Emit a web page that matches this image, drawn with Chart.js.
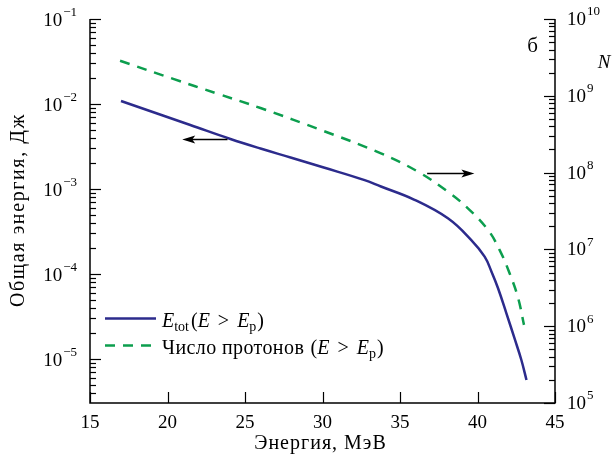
<!DOCTYPE html>
<html><head><meta charset="utf-8">
<script src="https://cdn.jsdelivr.net/npm/chart.js@4/dist/chart.umd.min.js"></script>
<style>html,body{margin:0;padding:0;background:#fff}</style>
</head><body>
<canvas id="c" width="613" height="462"></canvas>
<script>
// ---- data ----
const energyTotX = [17.0, 21.47, 24.06, 26.0, 27.94, 30.08, 32.67, 33.77, 35.9, 38.09, 39.6, 40.46, 40.89, 41.32, 41.86, 42.4, 42.83, 43.16];
const energyTotY = [1.084e-2, 5.66e-3, 3.87e-3, 2.99e-3, 2.35e-3, 1.79e-3, 1.28e-3, 1.07e-3, 7.52e-4, 4.52e-4, 2.51e-4, 1.6e-4, 1.08e-4, 6.84e-5, 3.47e-5, 1.72e-5, 9.73e-6, 5.66e-6];
const protonX = [16.94, 20.37, 23.2, 26.0, 30.08, 33.77, 36.15, 38.09, 39.38, 40.68, 41.43, 42.07, 42.62, 43.0];
const protonY = [2.86e9, 1.66e9, 1.07e9, 6.93e8, 3.48e8, 1.78e8, 1.03e8, 5.64e7, 3.43e7, 1.79e7, 9.8e6, 4.89e6, 2.33e6, 1.04e6];
const xTickValues = [15, 20, 25, 30, 35, 40, 45];
const leftDecades = [-5, -4, -3, -2, -1];
const rightDecades = [5, 6, 7, 8, 9, 10];
const xTitle = 'Энергия, МэВ';
const yTitle = 'Общая энергия, Дж';
const rightTitle = 'N';
const panelLabel = 'б';
const leftArrow = {x1: 23.87, x2: 20.95, y: 3.9e-3};   // left-axis units
const rightArrow = {x1: 36.75, x2: 39.8, y: 1.0e8};    // right-axis units
const panelPos = {x: 43.55, y: 4.4e9};                 // right-axis units

const BLUE = '#2c2b8c';
const GREEN = '#0c9e4e';
const SERIF = '"Liberation Serif", "DejaVu Serif", serif';

function pts(xs, ys) { return xs.map((x, i) => ({x: x, y: ys[i]})); }

function drawPow(ctx, base, exp, x, y, align) {
  ctx.save();
  ctx.textBaseline = 'middle';
  ctx.textAlign = 'left';
  const bf = '19px ' + SERIF, ef = '13px ' + SERIF;
  ctx.font = bf; const bw = ctx.measureText(base).width;
  ctx.font = ef; const ew = ctx.measureText(exp).width;
  let x0 = x;
  if (align === 'right') x0 = x - bw - ew - 1;
  ctx.fillStyle = '#000';
  ctx.font = bf; ctx.fillText(base, x0, y);
  ctx.font = ef; ctx.fillText(exp, x0 + bw + 1, y - 8);
  ctx.restore();
}

function drawRich(ctx, segs, x, y) {
  ctx.save();
  ctx.textBaseline = 'alphabetic';
  ctx.textAlign = 'left';
  ctx.fillStyle = '#000';
  let cx = x;
  for (const s of segs) {
    const size = s.sub ? 14 : 20;
    ctx.font = (s.i ? 'italic ' : '') + size + 'px ' + SERIF;
    ctx.letterSpacing = s.ls ? s.ls : '0px';
    ctx.fillText(s.t, cx, y + (s.sub ? 4 : 0));
    cx += ctx.measureText(s.t).width + (s.gap || 0);
  }
  ctx.restore();
}

function arrow(ctx, x1, x2, y) {
  const dir = Math.sign(x2 - x1);
  ctx.save();
  ctx.strokeStyle = '#000'; ctx.fillStyle = '#000'; ctx.lineWidth = 1.5;
  ctx.beginPath(); ctx.moveTo(x1, y); ctx.lineTo(x2 - dir * 8, y); ctx.stroke();
  ctx.beginPath(); ctx.moveTo(x2, y); ctx.lineTo(x2 - dir * 13, y - 4); ctx.lineTo(x2 - dir * 10, y); ctx.lineTo(x2 - dir * 13, y + 4); ctx.closePath(); ctx.fill();
  ctx.restore();
}

const axesPlugin = {
  id: 'axesPlugin',
  afterDraw(chart) {
    const ctx = chart.ctx;
    const a = chart.chartArea;
    const sx = chart.scales.x, yl = chart.scales.yL, yr = chart.scales.yR;
    ctx.save();
    ctx.strokeStyle = '#000';
    ctx.lineWidth = 1.5;
    ctx.beginPath();
    ctx.moveTo(a.left, a.top); ctx.lineTo(a.left, a.bottom); ctx.lineTo(a.right, a.bottom); ctx.lineTo(a.right, a.top);
    ctx.stroke();
    ctx.lineWidth = 1.2;
    for (let d = -6; d <= -1; d++) {
      for (let m = 1; m <= 9; m++) {
        const v = m * Math.pow(10, d);
        if (v < yl.min * 0.999 || v > yl.max * 1.001) continue;
        const py = Math.round(yl.getPixelForValue(v)) + 0.5;
        const len = m === 1 ? 11 : 6;
        ctx.beginPath(); ctx.moveTo(a.left, py); ctx.lineTo(a.left + len, py); ctx.stroke();
      }
    }
    for (let d = 5; d <= 10; d++) {
      for (let m = 1; m <= 9; m++) {
        const v = m * Math.pow(10, d);
        if (v < yr.min * 0.999 || v > yr.max * 1.001) continue;
        const py = Math.round(yr.getPixelForValue(v)) + 0.5;
        const len = m === 1 ? 11 : 6;
        ctx.beginPath(); ctx.moveTo(a.right, py); ctx.lineTo(a.right - len, py); ctx.stroke();
      }
    }
    for (const v of xTickValues) {
      const px = Math.round(sx.getPixelForValue(v)) + 0.5;
      ctx.beginPath(); ctx.moveTo(px, a.bottom); ctx.lineTo(px, a.bottom - 11); ctx.stroke();
    }
    ctx.restore();

    for (const d of leftDecades) {
      drawPow(ctx, '10', '\u2212' + Math.abs(d), 77, yl.getPixelForValue(Math.pow(10, d)) + 2, 'right');
    }
    for (const d of rightDecades) {
      drawPow(ctx, '10', String(d), 567, yr.getPixelForValue(Math.pow(10, d)) + 1, 'left');
    }
    ctx.save();
    ctx.fillStyle = '#000';
    ctx.font = '19px ' + SERIF;
    ctx.textAlign = 'center'; ctx.textBaseline = 'middle';
    for (const v of xTickValues) ctx.fillText(String(v), sx.getPixelForValue(v), 423);
    ctx.font = '20px ' + SERIF;
    ctx.letterSpacing = '1px';
    ctx.fillText(xTitle, (a.left + a.right) / 2 - 2, 444);
    ctx.save();
    ctx.letterSpacing = '1.6px';
    ctx.translate(19, 210); ctx.rotate(-Math.PI / 2);
    ctx.fillText(yTitle, 0, 0);
    ctx.restore();
    ctx.letterSpacing = '0px';
    ctx.font = 'italic 19px ' + SERIF;
    ctx.fillText(rightTitle, 604, 63);
    ctx.font = '21px ' + SERIF;
    ctx.fillText(panelLabel, sx.getPixelForValue(panelPos.x), yr.getPixelForValue(panelPos.y));
    ctx.restore();

    arrow(ctx, sx.getPixelForValue(leftArrow.x1), sx.getPixelForValue(leftArrow.x2), Math.round(yl.getPixelForValue(leftArrow.y)) + 0.5);
    arrow(ctx, sx.getPixelForValue(rightArrow.x1), sx.getPixelForValue(rightArrow.x2), Math.round(yr.getPixelForValue(rightArrow.y)) + 0.5);

    ctx.save();
    ctx.lineWidth = 2.5;
    ctx.strokeStyle = BLUE;
    ctx.beginPath(); ctx.moveTo(105, 318.5); ctx.lineTo(156, 318.5); ctx.stroke();
    ctx.strokeStyle = GREEN; ctx.setLineDash([10, 8]);
    ctx.beginPath(); ctx.moveTo(105, 345.5); ctx.lineTo(152, 345.5); ctx.stroke();
    ctx.restore();
    drawRich(ctx, [
      {t: 'E', i: true}, {t: 'tot', sub: true, gap: 2}, {t: '('}, {t: 'E', i: true, gap: 8}, {t: '>', gap: 8}, {t: 'E', i: true}, {t: 'p', sub: true, gap: 1}, {t: ')'}
    ], 162, 327);
    drawRich(ctx, [
      {t: 'Число протонов ', ls: '0.4px', gap: 1}, {t: '('}, {t: 'E', i: true, gap: 8}, {t: '>', gap: 8}, {t: 'E', i: true}, {t: 'p', sub: true, gap: 1}, {t: ')'}
    ], 162, 354);
  }
};

new Chart(document.getElementById('c'), {
  type: 'line',
  data: {
    datasets: [
      {
        label: 'E_tot(E > E_p)',
        data: pts(energyTotX, energyTotY),
        yAxisID: 'yL',
        borderColor: BLUE,
        borderWidth: 2.5,
        pointRadius: 0,
        tension: 0.4,
        fill: false
      },
      {
        label: 'Число протонов (E > E_p)',
        data: pts(protonX, protonY),
        yAxisID: 'yR',
        borderColor: GREEN,
        borderWidth: 2.5,
        borderDash: [10, 8],
        pointRadius: 0,
        tension: 0.4,
        fill: false
      }
    ]
  },
  options: {
    responsive: false,
    devicePixelRatio: 1,
    animation: false,
    layout: {padding: {left: 90, right: 58, top: 19, bottom: 59}},
    plugins: {legend: {display: false}, tooltip: {enabled: false}},
    scales: {
      x: {type: 'linear', min: 15, max: 45, display: false},
      yL: {type: 'logarithmic', position: 'left', min: Math.pow(10, -5.518), max: 0.1, bounds: 'data', display: false},
      yR: {type: 'logarithmic', position: 'right', min: 1e5, max: 1e10, bounds: 'data', display: false}
    }
  },
  plugins: [axesPlugin]
});
</script>
</body></html>
